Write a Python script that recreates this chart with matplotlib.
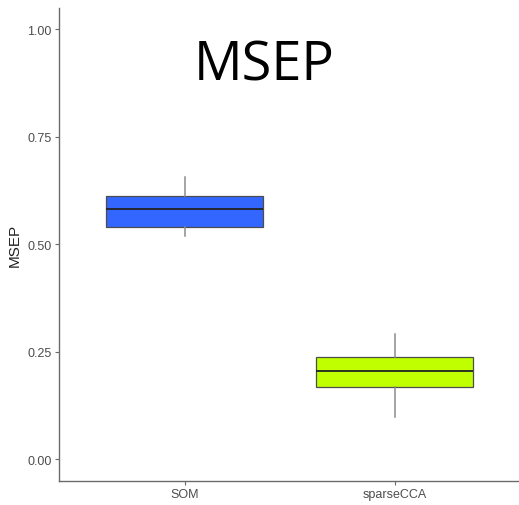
import matplotlib
matplotlib.use("Agg")
import matplotlib.pyplot as plt

# five-number summaries per method (whisker low, q1, median, q3, whisker high)
methods = ["SOM", "sparseCCA"]
whislo = [0.519, 0.097]
q1 = [0.539, 0.167]
median = [0.581, 0.205]
q3 = [0.612, 0.238]
whishi = [0.657, 0.290]
fills = ["#3366FF", "#BFFF00"]

stats = [dict(label=m, whislo=lo, q1=a, med=md, q3=b, whishi=hi)
         for m, lo, a, md, b, hi in zip(methods, whislo, q1, median, q3, whishi)]

plt.rcParams["font.family"] = ["Liberation Sans", "DejaVu Sans"]

fig = plt.figure(figsize=(5.19, 5.06), dpi=100)
ax = fig.add_axes([0.113, 0.048, 0.890, 0.935])

bp = ax.bxp(stats, positions=[1, 2], widths=0.75, showfliers=False,
            patch_artist=True,
            boxprops=dict(edgecolor="#4d4d4d", linewidth=0.9),
            medianprops=dict(color="#222222", linewidth=1.3),
            whiskerprops=dict(color="#8c8c8c", linewidth=1.1),
            capprops=dict(linewidth=0))
for patch, c in zip(bp["boxes"], fills):
    patch.set_facecolor(c)

ax.set_xlim(0.4, 2.6)
ax.set_ylim(-0.05, 1.05)
ax.set_yticks([0, 0.25, 0.5, 0.75, 1.0])
ax.set_yticklabels(["0.00", "0.25", "0.50", "0.75", "1.00"])
ax.set_xticks([1, 2])
ax.set_xticklabels(methods)

for side in ("top", "right"):
    ax.spines[side].set_visible(False)
for side in ("left", "bottom"):
    ax.spines[side].set_color("#6b6b6b")
    ax.spines[side].set_linewidth(1.0)
ax.tick_params(colors="#4d4d4d", labelsize=9, length=3, width=0.8,
               pad=2)
ax.tick_params(axis="both", color="#6b6b6b")

ax.set_ylabel("MSEP", fontsize=11, color="#222222", labelpad=4)

fig.text(264 / 519, 1 - 66 / 506, "MSEP", ha="center", va="center",
         fontsize=39, family=["Open Sans", "DejaVu Sans"], color="black")

fig.savefig("out.png", dpi=100)
